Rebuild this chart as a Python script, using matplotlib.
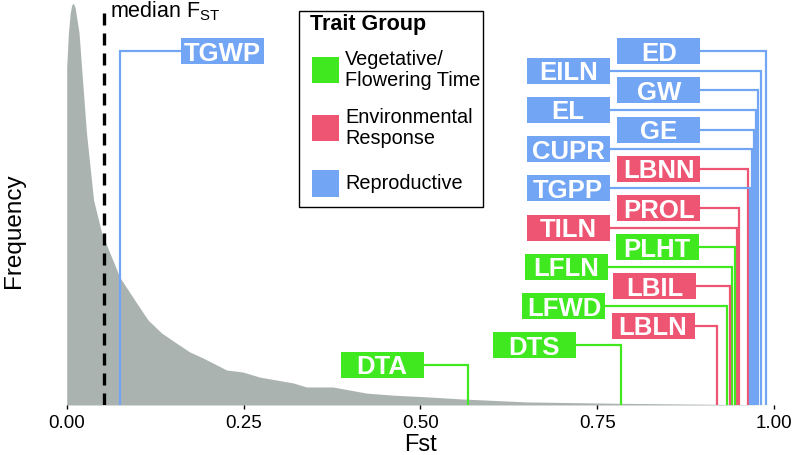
import matplotlib.pyplot as plt
from matplotlib.patches import Rectangle

plt.rcParams['font.family'] = ['Liberation Sans', 'DejaVu Sans']

# distribution of Fst (density curve)
fst_grid = [0.0, 0.0024, 0.005, 0.007, 0.0094, 0.012, 0.014, 0.0175, 0.021, 0.028,
            0.038, 0.0495, 0.075, 0.096, 0.115, 0.134, 0.153, 0.174, 0.193, 0.226,
            0.249, 0.273, 0.32, 0.339, 0.376, 0.424, 0.461, 0.509, 0.556, 0.65,
            0.78, 0.9, 1.0]
density = [9.94, 10.94, 11.53, 11.76, 11.82, 11.68, 11.41, 10.94, 9.94, 8.0,
           6.03, 5.06, 3.76, 3.09, 2.5, 2.12, 1.85, 1.56, 1.38, 1.03,
           0.97, 0.82, 0.65, 0.53, 0.53, 0.35, 0.29, 0.24, 0.18, 0.09,
           0.05, 0.024, 0.0]

median_fst = 0.053

# traits, their Fst and trait group
traits = ['TGWP', 'ED', 'EILN', 'GW', 'EL', 'GE', 'CUPR', 'LBNN', 'TGPP',
          'PROL', 'TILN', 'PLHT', 'LFLN', 'LBIL', 'LFWD', 'LBLN', 'DTS', 'DTA']
trait_fst = [0.0754, 0.989, 0.982, 0.977, 0.974, 0.971, 0.969, 0.963, 0.966,
             0.951, 0.948, 0.945, 0.941, 0.938, 0.933, 0.920, 0.783, 0.568]
trait_group = ['Rep', 'Rep', 'Rep', 'Rep', 'Rep', 'Rep', 'Rep', 'Env', 'Rep',
               'Env', 'Env', 'Veg', 'Veg', 'Env', 'Veg', 'Env', 'Veg', 'Veg']

groups = ['Veg', 'Env', 'Rep']
group_names = ['Vegetative/\nFlowering Time', 'Environmental\nResponse', 'Reproductive']
group_colors = {'Veg': '#40E820', 'Env': '#EE5573', 'Rep': '#73A5F5'}

# label layout (box centre in Fst units, row from the top)
label_x = [0.2196, 0.837, 0.709, 0.837, 0.709, 0.837, 0.709, 0.837, 0.709,
           0.837, 0.709, 0.835, 0.706, 0.831, 0.703, 0.829, 0.661, 0.446]
label_row = [0, 0, 1, 2, 3, 4, 5, 6, 7, 8, 9, 10, 11, 12, 13, 14, 15, 16]
row_top = 10.41
row_step = 0.577
box_w = 0.1174
box_h = 0.765

fig = plt.figure(figsize=(7.93, 4.55), dpi=100)
ax = fig.add_axes([0.0841, 0.1099, 0.892, 0.890])

ax.fill_between(fst_grid, density, 0, color='#ABB3B0', linewidth=0, zorder=1)

# median line
ax.plot([median_fst, median_fst], [0, 11.76], color='black', lw=2.4,
        dashes=(3.6, 2.4), zorder=2)
ax.text(0.0613, 11.40, r'median $\mathregular{F_{ST}}$', fontsize=15.5,
        va='baseline', ha='left')

# trait labels with connectors
for name, x, grp, bx, row in zip(traits, trait_fst, trait_group, label_x, label_row):
    by = row_top - row * row_step
    c = group_colors[grp]
    edge = bx + box_w / 2 if x > bx else bx - box_w / 2
    ax.plot([edge, x, x], [by, by, 0], color=c, lw=1.6,
            solid_joinstyle='miter', zorder=3)
    ax.add_patch(Rectangle((bx - box_w / 2, by - box_h / 2), box_w, box_h,
                           facecolor=c, edgecolor='none', zorder=4))
    ax.text(bx, by, name, color='white', fontsize=18.5, fontweight='bold',
            ha='center', va='center_baseline', zorder=5)

# legend box
ax.add_patch(Rectangle((0.329, 5.82), 0.26, 5.78, facecolor='white',
                       edgecolor='black', lw=1.0, zorder=6))
ax.text(0.344, 11.18, 'Trait Group', fontsize=15.5, fontweight='bold',
        va='center', ha='left', zorder=7)
leg_y = [9.85, 8.15, 6.52]
for g, label, yy in zip(groups, group_names, leg_y):
    ax.add_patch(Rectangle((0.3465, yy - 0.39), 0.0385, 0.78,
                           facecolor=group_colors[g], edgecolor='none', zorder=7))
    ax.text(0.3936, yy, label, fontsize=14.3, va='center', ha='left',
            linespacing=1.15, zorder=7)

ax.set_xlim(0, 1)
ax.set_ylim(0, 11.912)
ax.set_xticks([0, 0.25, 0.5, 0.75, 1.0])
ax.set_xticklabels(['0.00', '0.25', '0.50', '0.75', '1.00'])
ax.set_yticks([])
ax.tick_params(axis='x', length=3, width=1, labelsize=13.5, pad=4)
for s in ax.spines.values():
    s.set_visible(False)
ax.set_xlabel('Fst', fontsize=17, labelpad=2)
fig.text(0.018, 0.494, 'Frequency', rotation=90, fontsize=17.5,
         va='center', ha='center')

fig.savefig('out.png', dpi=100)
